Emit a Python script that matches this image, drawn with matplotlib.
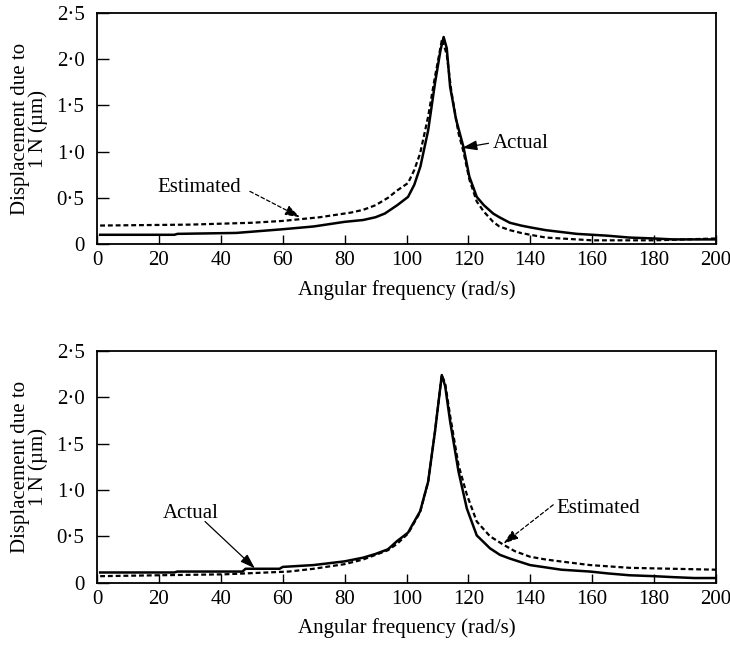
import numpy as np
import matplotlib
matplotlib.use("Agg")
import matplotlib.pyplot as plt

plt.rcParams['font.family'] = ['Liberation Serif', 'DejaVu Serif']
plt.rcParams['font.size'] = 15

# --- data ---
# upper panel
top_actual_w = [1, 25, 26, 45, 60, 70, 80, 86, 90, 93, 97, 100.5, 102.5, 104.5, 107,
                109.2, 111, 112, 113, 114.1, 116, 118.4, 120.3, 122.7, 125, 128, 130,
                133.4, 137, 140, 145, 150, 155, 160, 165, 172, 180, 186, 193, 200]
top_actual = [0.10, 0.10, 0.11, 0.12, 0.16, 0.19, 0.24, 0.26, 0.29, 0.33, 0.42, 0.51,
              0.64, 0.84, 1.23, 1.74, 2.10, 2.24, 2.12, 1.70, 1.35, 1.05, 0.73, 0.51,
              0.42, 0.33, 0.29, 0.23, 0.20, 0.18, 0.15, 0.13, 0.11, 0.10, 0.09, 0.07,
              0.06, 0.05, 0.05, 0.05]
top_est_w = [1, 30, 50, 60, 66, 72, 78, 82, 86, 90, 94, 97, 100.5, 102.5, 104.4, 107,
             109.2, 111.5, 113, 114.5, 116.8, 118.4, 120.3, 122.7, 125, 128, 130, 133.4,
             137, 140, 145, 150, 160, 170, 180, 190, 200]
top_est = [0.20, 0.21, 0.23, 0.25, 0.27, 0.29, 0.32, 0.34, 0.37, 0.42, 0.50, 0.58, 0.66,
           0.80, 0.98, 1.38, 1.81, 2.22, 2.05, 1.65, 1.20, 1.00, 0.70, 0.46, 0.35, 0.24,
           0.19, 0.15, 0.12, 0.10, 0.07, 0.06, 0.04, 0.04, 0.04, 0.05, 0.06]

# lower panel
bot_actual_w = [1, 25, 26, 47, 48, 59, 60, 70, 80, 86, 90, 94, 97, 100.5, 102, 104.4,
                107, 109.2, 111.4, 112.5, 114.1, 116.8, 119.5, 122.7, 127, 130.2, 133.4,
                139.9, 150, 159.3, 165, 172, 180, 186, 193, 200]
bot_actual = [0.11, 0.11, 0.12, 0.12, 0.15, 0.15, 0.17, 0.19, 0.23, 0.27, 0.31, 0.36,
              0.45, 0.54, 0.63, 0.77, 1.09, 1.63, 2.24, 2.12, 1.74, 1.20, 0.80, 0.51,
              0.37, 0.30, 0.26, 0.19, 0.14, 0.12, 0.10, 0.08, 0.07, 0.06, 0.05, 0.05]
bot_est_w = [1, 20, 41, 62, 70, 80, 86, 90, 94, 97, 100.5, 104.4, 107, 109.2, 111.4,
             112.5, 114.1, 116.8, 119.5, 122.7, 127, 131.3, 135, 139.9, 145, 149.6,
             159.3, 172.2, 186, 200]
bot_est = [0.07, 0.08, 0.09, 0.12, 0.15, 0.20, 0.25, 0.30, 0.35, 0.42, 0.53, 0.76, 1.09,
           1.63, 2.24, 2.15, 1.80, 1.27, 0.95, 0.66, 0.50, 0.41, 0.34, 0.28, 0.25, 0.23,
           0.19, 0.16, 0.15, 0.14]

x_ticks = [0, 20, 40, 60, 80, 100, 120, 140, 160, 180, 200]
y_ticks = [0, 0.5, 1.0, 1.5, 2.0, 2.5]
y_tick_labels = ['0', '0·5', '1·0', '1·5', '2·0', '2·5']

fig = plt.figure(figsize=(7.3, 6.53), dpi=100)
ax1 = fig.add_axes([0.1329, 0.6263, 0.8479, 0.3538])
ax2 = fig.add_axes([0.1329, 0.1077, 0.8479, 0.3548])


def style(ax):
    ax.set_xlim(0, 200)
    ax.set_ylim(0, 2.5)
    ax.set_xticks(x_ticks)
    ax.set_yticks(y_ticks)
    ax.set_yticklabels(y_tick_labels)
    ax.tick_params(direction='in', width=1, top=False, right=False)
    ax.tick_params(axis='x', pad=5, length=6.5)
    ax.tick_params(axis='y', pad=9, length=8.5)
    for s in ax.spines.values():
        s.set_linewidth(1.3)
    ax.set_xlabel('Angular frequency (rad/s)', labelpad=7)
    ax.set_ylabel('Displacement due to\n1 N (µm)', labelpad=6, linespacing=0.9)


solid_kw = dict(color='black', lw=1.8)
dash_kw = dict(color='black', lw=1.6, ls=(0, (2.2, 1.3)))

ax1.plot(top_actual_w, top_actual, **solid_kw)
ax1.plot(top_est_w, top_est, **dash_kw)
ax2.plot(bot_actual_w, bot_actual, **solid_kw)
ax2.plot(bot_est_w, bot_est, **dash_kw)
style(ax1)
style(ax2)

arrow_solid = dict(arrowstyle='-|>,head_length=0.6,head_width=0.2', color='black',
                   lw=0.9, shrinkA=0, shrinkB=0)
arrow_dash = dict(arrowstyle='-|>,head_length=0.6,head_width=0.2', color='black',
                  lw=0.9, ls=(0, (3, 2)), shrinkA=0, shrinkB=0)

# upper annotations
ax1.text(19.4, 0.61, 'Estimated', ha='left', va='center')
ax1.annotate('', xy=(65.6, 0.29), xytext=(49.4, 0.57), arrowprops=arrow_dash)
ax1.text(128, 1.09, 'Actual', ha='left', va='center')
ax1.annotate('', xy=(118, 1.04), xytext=(126.5, 1.09), arrowprops=arrow_solid)

# lower annotations
ax2.text(21.3, 0.75, 'Actual', ha='left', va='center')
ax2.annotate('', xy=(51.0, 0.155), xytext=(34.9, 0.66), arrowprops=arrow_solid)
ax2.text(148.3, 0.80, 'Estimated', ha='left', va='center')
ax2.annotate('', xy=(131.3, 0.42), xytext=(147.4, 0.84), arrowprops=arrow_dash)

fig.savefig('out.png', dpi=100)
